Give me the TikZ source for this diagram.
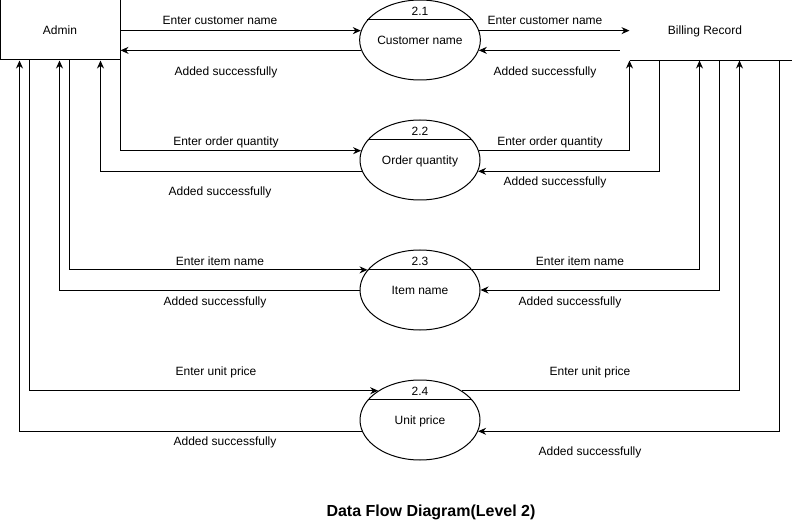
\documentclass[tikz,border=0pt]{standalone}
\usepackage{fontspec}
\setmainfont{Liberation Sans}
\usetikzlibrary{shapes.geometric, arrows.meta}

\begin{document}
\begin{tikzpicture}[x=1pt, y=-1pt, line width=1pt,
    every node/.style={font=\fontsize{12}{14}\selectfont, inner sep=0pt, text height=8.6pt, text depth=0pt},
    entity/.style={rectangle, draw, minimum width=120pt, minimum height=60pt},
    store/.style={rectangle, minimum width=150pt, minimum height=60pt},
    proc/.style={ellipse, draw, minimum width=120pt, minimum height=80pt},
    flow/.style={-{Stealth[length=8pt, width=7pt]}}]
  \useasboundingbox (0,0) rectangle (792,521);

  \node [entity] (admin) at (60,30) {Admin};
  \node [store] (bill) at (705,30) {Billing Record};
  \draw (bill.north west) -- ([xshift=12pt]bill.north east);
  \draw (bill.south west) -- ([xshift=12pt]bill.south east);

  \node [proc] (p1) at (420,40) {Customer name};
  \node [proc] (p2) at (420,160) {Order quantity};
  \node [proc] (p3) at (420,290) {Item name};
  \node [proc] (p4) at (420,420) {Unit price};
  \draw (p1.159) -- (p1.21);
  \draw (p2.159) -- (p2.21);
  \draw (p3.159) -- (p3.21);
  \draw (p4.159) -- (p4.21);
  \node (n1) at (420,11.5) {2.1};
  \node (n2) at (420,131.5) {2.2};
  \node (n3) at (420,261.5) {2.3};
  \node (n4) at (420,391.5) {2.4};

  \draw [flow] (admin.east |- p1.171) -- (p1.171);
  \draw [flow] (p1.190) -- (admin.east |- p1.190);
  \draw [flow] (p1.9) -- (p1.9 -| bill.west);
  \draw [flow] ([xshift=-10pt]bill.west |- p1.350) -- (p1.350);

  \draw [flow] (admin.south east) |- (p2.171);
  \draw [flow] (p2.191) -| ([xshift=-20pt]admin.south east);
  \draw [flow] (p2.9) -| (bill.south west);
  \draw [flow] ([xshift=30pt]bill.south west) |- (p2.349);

  \draw [flow] ([xshift=70pt]admin.south west) |- (p3.159);
  \draw [flow] (p3.west) -| ([xshift=60pt]admin.south west);
  \draw [flow] (p3.21) -| ([xshift=70pt]bill.south west);
  \draw [flow] ([xshift=90pt]bill.south west) |- (p3.east);

  \draw [flow] ([xshift=30pt]admin.south west) |- (p4.145);
  \draw [flow] (p4.191) -| ([xshift=20pt]admin.south west);
  \draw [flow] (p4.35) -| ([xshift=110pt]bill.south west);
  \draw [flow] ([xshift=150pt]bill.south west) |- (p4.349);

  \node (ecn1) at (220,20) {Enter customer name};
  \node (as1) at (226,71) {Added successfully};
  \node (ecn2) at (545,20) {Enter customer name};
  \node (as2) at (545,71) {Added successfully};
  \node (eoq1) at (226,141) {Enter order quantity};
  \node (as3) at (220,191) {Added successfully};
  \node (eoq2) at (550,141) {Enter order quantity};
  \node (as4) at (555,181) {Added successfully};
  \node (ein1) at (220,261) {Enter item name};
  \node (as5) at (215,301) {Added successfully};
  \node (ein2) at (580,261) {Enter item name};
  \node (as6) at (570,301) {Added successfully};
  \node (eup1) at (216,371) {Enter unit price};
  \node (as7) at (225,441) {Added successfully};
  \node (eup2) at (590,371) {Enter unit price};
  \node (as8) at (590,451) {Added successfully};

  \node [font=\bfseries\fontsize{16}{19}\selectfont, text height=11.5pt] (title) at (431,511) {Data Flow Diagram(Level 2)};
\end{tikzpicture}
\end{document}
